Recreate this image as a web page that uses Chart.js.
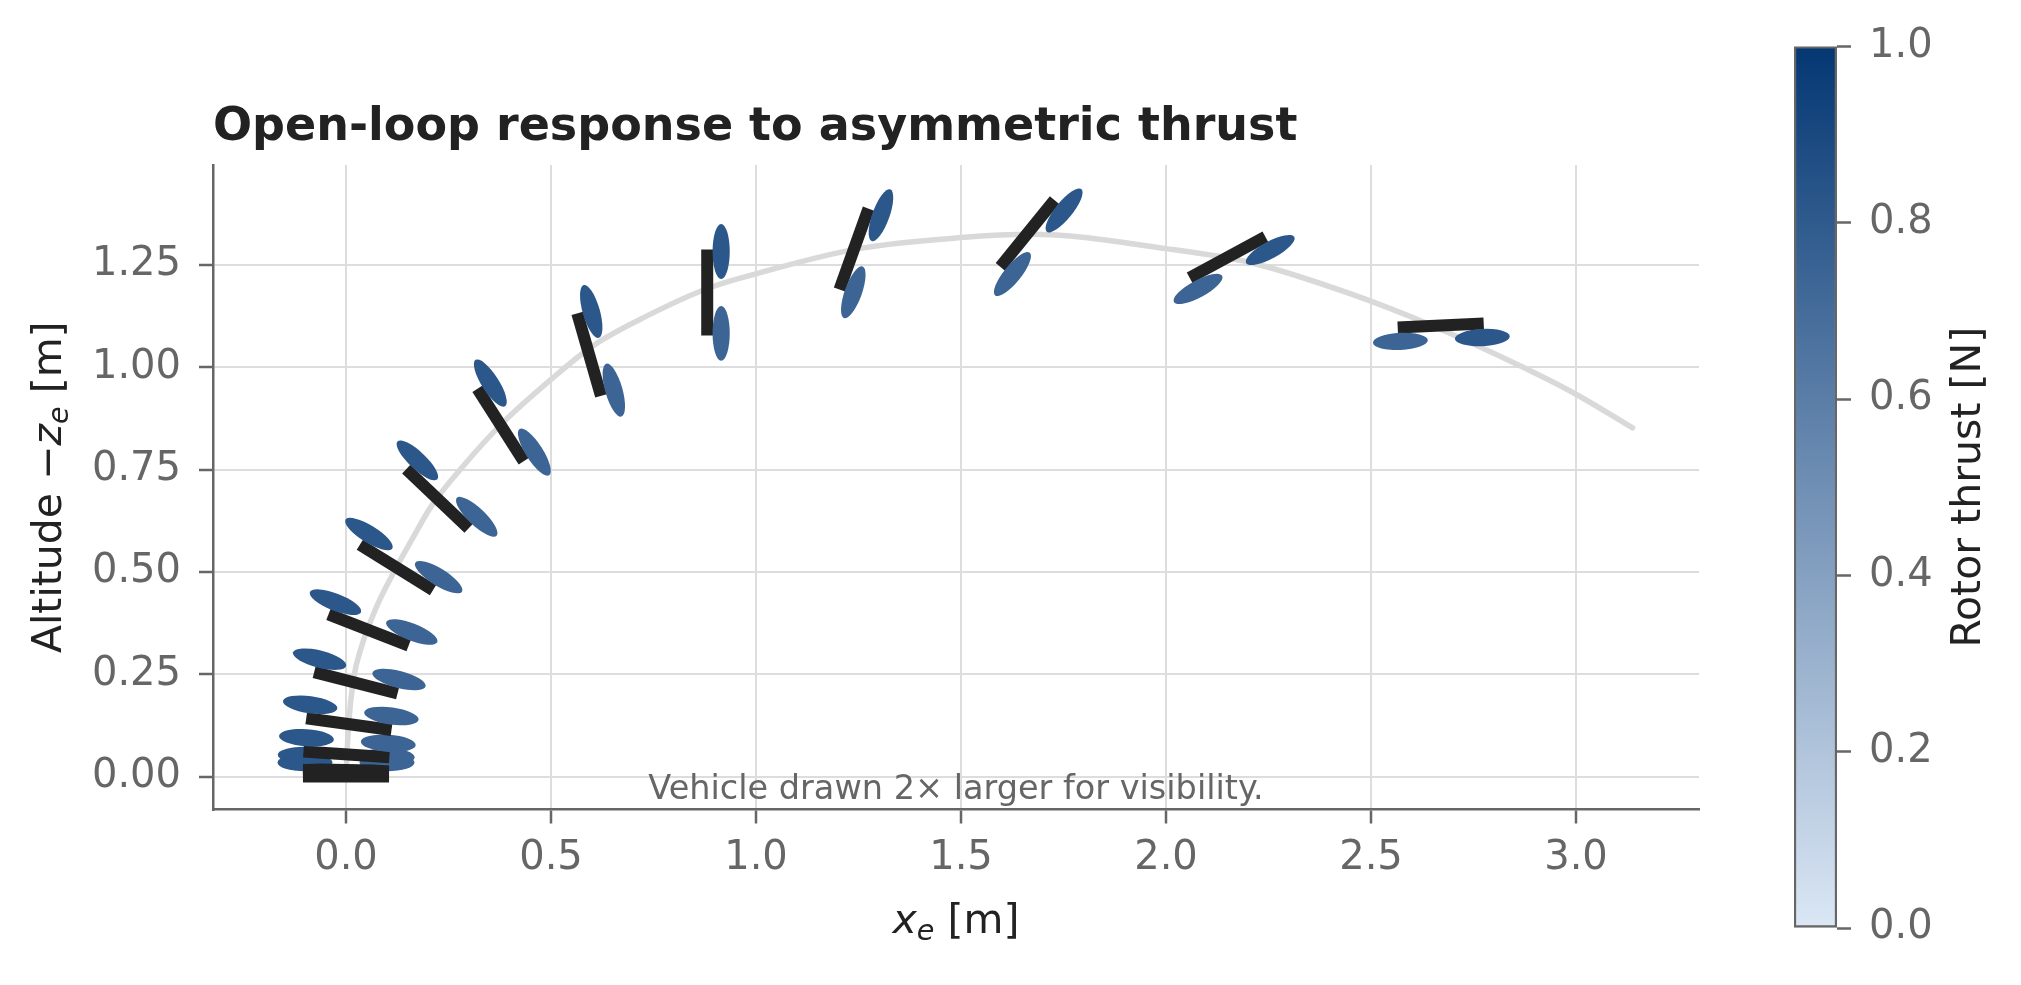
<!DOCTYPE html>
<html>
<head>
<meta charset="utf-8">
<script src="https://cdn.jsdelivr.net/npm/chart.js@4.4.1/dist/chart.umd.min.js"></script>
<style>
  html, body { margin: 0; padding: 0; background: #fff; }
  #wrap { position: relative; width: 2021px; height: 985px; }
  #mainchart { position: absolute; left: 0; top: 0; }
  #cbar { position: absolute; left: 1700px; top: 0; }
</style>
</head>
<body>
<div id="wrap">
  <canvas id="mainchart" width="2021" height="985"></canvas>
  <canvas id="cbar" width="321" height="985"></canvas>
</div>
<script>
// trajectory (x_e, -z_e)
const traj_x = [0.000, 0.006, 0.018, 0.038, 0.075, 0.116, 0.164, 0.209, 0.286, 0.384, 0.502, 0.603, 0.733, 0.880, 1.002, 1.250, 1.500, 1.670, 2.000, 2.210, 2.449, 2.644, 2.871, 3.002, 3.138];
const traj_z = [0.000, 0.122, 0.236, 0.318, 0.416, 0.498, 0.585, 0.662, 0.759, 0.866, 0.972, 1.053, 1.125, 1.192, 1.229, 1.290, 1.317, 1.325, 1.290, 1.255, 1.180, 1.104, 1.000, 0.933, 0.852];

// vehicle snapshots: position, pitch (deg, nose right), rotor thrusts [N]
const veh_x = [0.000, 0.000, 0.001, 0.007, 0.024, 0.055, 0.123, 0.223, 0.377, 0.593, 0.881, 1.239, 1.662, 2.150, 2.670];
const veh_z = [0.000, 0.016, 0.054, 0.128, 0.229, 0.358, 0.511, 0.679, 0.859, 1.031, 1.183, 1.289, 1.327, 1.269, 1.102];
const veh_pitch = [0, 1.0, 3.9, 7.9, 14.4, 21.4, 31.8, 43.6, 57.5, 74.0, 90.0, 109.7, 129.0, 151.6, 177.3];
const thrust_left = [0.82, 0.82, 0.82, 0.82, 0.82, 0.82, 0.82, 0.82, 0.82, 0.82, 0.82, 0.82, 0.82, 0.82, 0.82];
const thrust_right = [0.74, 0.74, 0.74, 0.74, 0.74, 0.74, 0.74, 0.74, 0.74, 0.74, 0.74, 0.74, 0.74, 0.74, 0.74];

// axes
const x_ticks = [0.0, 0.5, 1.0, 1.5, 2.0, 2.5, 3.0];
const y_ticks = [0.00, 0.25, 0.50, 0.75, 1.00, 1.25];
const cbar_ticks = [0.0, 0.2, 0.4, 0.6, 0.8, 1.0];
const x_lim = [-0.3244, 3.300];
const y_lim = [-0.0806, 1.4944];
const cbar_lim = [0.0, 1.0];

/* vehicle geometry (drawn 2x), data units */
const HALF_LEN = 0.105;
const ROTOR_ARM = 0.100;
const ROTOR_UP = 0.034;
const ROTOR_RX = 0.067;
const ROTOR_RY = 0.021;
const BODY_WIDTH = 12;

const FONT = 'DejaVu Sans';
const cmap_lo = [219, 231, 245];
const cmap_hi = [4, 55, 115];

function thrust_color(t) {
  var f = (t - cbar_lim[0]) / (cbar_lim[1] - cbar_lim[0]);
  var c = cmap_lo.map((lo, k) => Math.round(lo + f * (cmap_hi[k] - lo)));
  return 'rgb(' + c.join(',') + ')';
}

Chart.defaults.font.family = FONT;

const vehicle_plugin = {
  id: 'vehicles',
  afterDatasetsDraw(chart) {
    const ctx = chart.ctx;
    const xs = chart.scales.x, ys = chart.scales.y;
    const rx = xs.getPixelForValue(ROTOR_RX) - xs.getPixelForValue(0);
    const ry = ys.getPixelForValue(0) - ys.getPixelForValue(ROTOR_RY);
    ctx.save();
    for (var i = 0; i < veh_x.length; i++) {
      var th = veh_pitch[i] * Math.PI / 180;
      var c = Math.cos(th), s = Math.sin(th);

      /* body */
      ctx.strokeStyle = '#222222';
      ctx.lineWidth = BODY_WIDTH;
      ctx.lineCap = 'butt';
      ctx.beginPath();
      ctx.moveTo(xs.getPixelForValue(veh_x[i] - HALF_LEN * c), ys.getPixelForValue(veh_z[i] + HALF_LEN * s));
      ctx.lineTo(xs.getPixelForValue(veh_x[i] + HALF_LEN * c), ys.getPixelForValue(veh_z[i] - HALF_LEN * s));
      ctx.stroke();

      /* rotors */
      var rotors = [[-1, thrust_left[i]], [1, thrust_right[i]]];
      for (var k = 0; k < 2; k++) {
        var side = rotors[k][0];
        var rxd = veh_x[i] + side * ROTOR_ARM * c + ROTOR_UP * s;
        var rzd = veh_z[i] - side * ROTOR_ARM * s + ROTOR_UP * c;
        ctx.save();
        ctx.translate(xs.getPixelForValue(rxd), ys.getPixelForValue(rzd));
        ctx.rotate(th);
        ctx.fillStyle = thrust_color(rotors[k][1]);
        ctx.beginPath();
        ctx.ellipse(0, 0, rx, ry, 0, 0, 2 * Math.PI);
        ctx.fill();
        ctx.restore();
      }
    }
    ctx.restore();
  }
};

/* draws a label made of pieces [text, italic, sub] centred on 0 along the baseline */
function draw_pieces(ctx, pieces, size) {
  var widths = pieces.map(p => {
    ctx.font = (p[1] ? 'italic ' : '') + (p[2] ? size * 0.7 : size) + 'px "' + FONT + '"';
    return ctx.measureText(p[0]).width;
  });
  var total = widths.reduce((a, b) => a + b, 0);
  var x = -total / 2;
  ctx.textAlign = 'left';
  ctx.textBaseline = 'alphabetic';
  pieces.forEach((p, i) => {
    ctx.font = (p[1] ? 'italic ' : '') + (p[2] ? size * 0.7 : size) + 'px "' + FONT + '"';
    ctx.fillText(p[0], x, p[2] ? size * 0.16 : 0);
    x += widths[i];
  });
}

const text_plugin = {
  id: 'texts',
  afterDraw(chart) {
    const ctx = chart.ctx;
    const area = chart.chartArea;
    ctx.save();
    ctx.fillStyle = '#222222';
    // x label
    ctx.save();
    ctx.translate((area.left + area.right) / 2, 933);
    draw_pieces(ctx, [['x', true, false], ['e', true, true], [' [m]', false, false]], 41);
    ctx.restore();
    // y label
    ctx.save();
    ctx.translate(61, (area.top + area.bottom) / 2);
    ctx.rotate(-Math.PI / 2);
    draw_pieces(ctx, [['Altitude \u2212', false, false], ['z', true, false], ['e', true, true], [' [m]', false, false]], 41);
    ctx.restore();
    // note
    ctx.fillStyle = '#666666';
    ctx.font = '33.5px "' + FONT + '"';
    ctx.textAlign = 'center';
    ctx.textBaseline = 'alphabetic';
    ctx.fillText('Vehicle drawn 2\u00d7 larger for visibility.', (area.left + area.right) / 2, area.bottom - 10.5);
    ctx.restore();
  }
};

const tick_font = { family: FONT, size: 40 };

const main = new Chart(document.getElementById('mainchart'), {
  type: 'scatter',
  data: {
    datasets: [{
      label: 'trajectory',
      data: traj_x.map((x, i) => ({ x: x, y: traj_z[i] })),
      showLine: true,
      borderColor: '#d9d9d9',
      borderWidth: 5.5,
      borderCapStyle: 'round',
      borderJoinStyle: 'round',
      cubicInterpolationMode: 'monotone',
      pointRadius: 0,
      fill: false
    }]
  },
  options: {
    responsive: false,
    animation: false,
    layout: { padding: { left: 0, top: 0, right: 322, bottom: 0 } },
    plugins: {
      legend: { display: false },
      tooltip: { enabled: false },
      title: {
        display: true,
        text: 'Open-loop response to asymmetric thrust',
        align: 'start',
        fullSize: false,
        color: '#222222',
        font: { family: FONT, size: 46, weight: 'bold', lineHeight: 1.2 },
        padding: { top: 100, bottom: 9.8 }
      }
    },
    scales: {
      x: {
        type: 'linear',
        min: x_lim[0],
        max: x_lim[1],
        afterBuildTicks: (s) => { s.ticks = x_ticks.map(v => ({ value: v })); },
        afterFit: (s) => { s.height = 175.5; },
        ticks: { callback: v => v.toFixed(1), color: '#666666', font: tick_font, padding: 11.5, maxRotation: 0, autoSkip: false },
        grid: { color: '#dddddd', lineWidth: 2, tickLength: 14, tickColor: '#666666', tickWidth: 2.5 },
        border: { display: true, color: '#666666', width: 2.5 }
      },
      y: {
        type: 'linear',
        min: y_lim[0],
        max: y_lim[1],
        afterBuildTicks: (s) => { s.ticks = y_ticks.map(v => ({ value: v })); },
        afterFit: (s) => { s.width = 213; },
        ticks: { callback: v => v.toFixed(2), color: '#666666', font: tick_font, padding: 18, autoSkip: false },
        grid: { color: '#dddddd', lineWidth: 2, tickLength: 14, tickColor: '#666666', tickWidth: 2.5 },
        border: { display: true, color: '#666666', width: 2.5 }
      }
    }
  },
  plugins: [vehicle_plugin, text_plugin]
});

const cbar_title_plugin = {
  id: 'cbar_title',
  afterDraw(chart) {
    const ctx = chart.ctx;
    const area = chart.chartArea;
    ctx.save();
    ctx.translate(280, (area.top + area.bottom) / 2);
    ctx.rotate(-Math.PI / 2);
    ctx.fillStyle = '#222222';
    ctx.font = '41px "' + FONT + '"';
    ctx.textAlign = 'center';
    ctx.textBaseline = 'alphabetic';
    ctx.fillText('Rotor thrust [N]', 0, 0);
    ctx.restore();
  }
};

const cbar = new Chart(document.getElementById('cbar'), {
  type: 'bar',
  data: {
    labels: [''],
    datasets: [{
      data: [[cbar_lim[0], cbar_lim[1]]],
      backgroundColor: (c) => {
        const area = c.chart.chartArea;
        if (!area) return thrust_color(0.5);
        const g = c.chart.ctx.createLinearGradient(0, area.bottom, 0, area.top);
        g.addColorStop(0, thrust_color(cbar_lim[0]));
        g.addColorStop(1, thrust_color(cbar_lim[1]));
        return g;
      },
      borderColor: '#666666',
      borderWidth: 2.5,
      borderSkipped: false,
      barPercentage: 1,
      categoryPercentage: 1
    }]
  },
  options: {
    responsive: false,
    animation: false,
    layout: { padding: { left: 94, top: 46.4, right: 0, bottom: 57 } },
    plugins: { legend: { display: false }, tooltip: { enabled: false } },
    scales: {
      x: { display: false },
      y: {
        position: 'right',
        min: cbar_lim[0],
        max: cbar_lim[1],
        afterBuildTicks: (s) => { s.ticks = cbar_ticks.map(v => ({ value: v })); },
        afterFit: (s) => { s.width = 184; },
        ticks: { callback: v => v.toFixed(1), color: '#666666', font: tick_font, padding: 18 },
        grid: { drawOnChartArea: false, tickLength: 14, tickColor: '#666666', tickWidth: 2.5, color: '#666666' },
        border: { display: false }
      }
    }
  },
  plugins: [cbar_title_plugin]
});
</script>
</body>
</html>
